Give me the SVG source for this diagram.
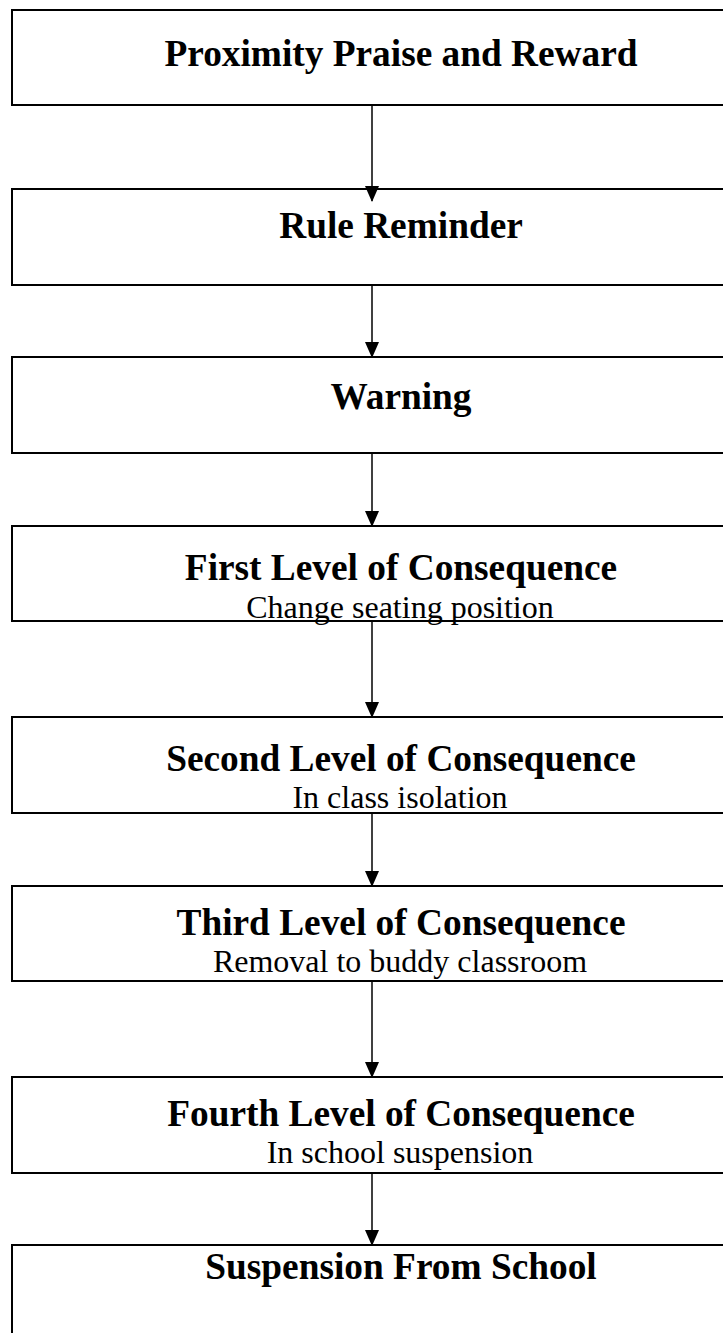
<svg xmlns="http://www.w3.org/2000/svg" width="723" height="1333" viewBox="0 0 723 1333">
<defs>
<style>
.box{fill:#fff;stroke:#000;stroke-width:2}
.t{font-family:"Liberation Serif","Times New Roman",serif;font-weight:bold;font-size:37.33px;text-anchor:middle;fill:#000}
.s{font-family:"Liberation Serif","Times New Roman",serif;font-size:32px;text-anchor:middle;fill:#000}
.c{stroke:#000;stroke-width:1.5;fill:none}
</style>
<marker id="ah" viewBox="0 0 16 14" refX="15" refY="7" markerWidth="16" markerHeight="14" markerUnits="userSpaceOnUse" orient="auto">
<path d="M0,0 L16,7 L0,14 Z" fill="#000"/>
</marker>
</defs>
<rect width="723" height="1333" fill="#fff"/>
<g id="n1"><rect class="box" x="12" y="10" width="800" height="95"/><text class="t" x="401" y="66">Proximity Praise and Reward</text></g>
<g id="n2"><rect class="box" x="12" y="189" width="800" height="96"/><text class="t" x="401" y="238">Rule Reminder</text></g>
<g id="n3"><rect class="box" x="12" y="357" width="800" height="96"/><text class="t" x="401" y="409">Warning</text></g>
<g id="n4"><rect class="box" x="12" y="526" width="800" height="95"/><text class="t" x="401" y="580">First Level of Consequence</text><text class="s" x="400" y="618">Change seating position</text></g>
<g id="n5"><rect class="box" x="12" y="717" width="800" height="96"/><text class="t" x="401" y="771">Second Level of Consequence</text><text class="s" x="400" y="808">In class isolation</text></g>
<g id="n6"><rect class="box" x="12" y="886" width="800" height="95"/><text class="t" x="401" y="935">Third Level of Consequence</text><text class="s" x="400" y="972">Removal to buddy classroom</text></g>
<g id="n7"><rect class="box" x="12" y="1077" width="800" height="96"/><text class="t" x="401" y="1126">Fourth Level of Consequence</text><text class="s" x="400" y="1163">In school suspension</text></g>
<g id="n8"><rect class="box" x="12" y="1245" width="800" height="200"/><text class="t" x="401" y="1279">Suspension From School</text></g>
<g id="connectors">
<line class="c" x1="372" y1="105" x2="372" y2="201" marker-end="url(#ah)"/>
<line class="c" x1="372" y1="285" x2="372" y2="357" marker-end="url(#ah)"/>
<line class="c" x1="372" y1="453" x2="372" y2="526" marker-end="url(#ah)"/>
<line class="c" x1="372" y1="621" x2="372" y2="717" marker-end="url(#ah)"/>
<line class="c" x1="372" y1="813" x2="372" y2="886" marker-end="url(#ah)"/>
<line class="c" x1="372" y1="981" x2="372" y2="1077" marker-end="url(#ah)"/>
<line class="c" x1="372" y1="1173" x2="372" y2="1245" marker-end="url(#ah)"/>
</g>
</svg>
